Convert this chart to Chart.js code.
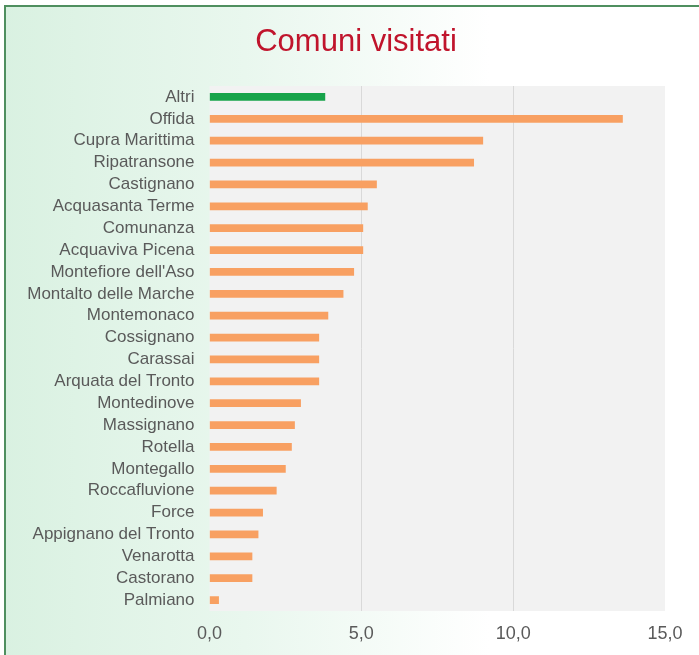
<!DOCTYPE html>
<html>
<head>
<meta charset="utf-8">
<script src="https://cdn.jsdelivr.net/npm/chart.js@4"></script>
<style>
    html, body { margin: 0; padding: 0; background: #ffffff; }
    #wrap { width: 699px; height: 655px; }
</style>
</head>
<body>
<div id="wrap"><canvas id="comuniChart" width="699" height="655"></canvas></div>
<script>
const titolo = 'Comuni visitati';
const comuni = [
    'Altri', 'Offida', 'Cupra Marittima', 'Ripatransone', 'Castignano',
    'Acquasanta Terme', 'Comunanza', 'Acquaviva Picena', "Montefiore dell'Aso",
    'Montalto delle Marche', 'Montemonaco', 'Cossignano', 'Carassai',
    'Arquata del Tronto', 'Montedinove', 'Massignano', 'Rotella', 'Montegallo',
    'Roccafluvione', 'Force', 'Appignano del Tronto', 'Venarotta', 'Castorano',
    'Palmiano'
];
const visite = [
    3.8, 13.6, 9.0, 8.7, 5.5,
    5.2, 5.05, 5.05, 4.75,
    4.4, 3.9, 3.6, 3.6,
    3.6, 3.0, 2.8, 2.7, 2.5,
    2.2, 1.75, 1.6, 1.4, 1.4,
    0.3
];
const xTicks = [0, 5, 10, 15];

const GREEN = '#17a34a';
const ORANGE = '#f8a062';
const LABEL_GREY = '#5a5a5a';

// sfondo sfumato verde, bordo e area del grafico
const backgroundPlugin = {
    id: 'background',
    beforeDraw(chart) {
        const { ctx, width, height, chartArea } = chart;
        ctx.save();
        const g = ctx.createLinearGradient(0, 0, width, 0);
        g.addColorStop(0, '#d9f1e1');
        g.addColorStop(0.35, '#e9f7ee');
        g.addColorStop(0.7, '#ffffff');
        ctx.fillStyle = g;
        ctx.fillRect(5, 6, width - 5, height - 6);

        ctx.strokeStyle = '#4f8f5f';
        ctx.lineWidth = 2;
        ctx.beginPath();
        ctx.moveTo(5, height);
        ctx.lineTo(5, 6);
        ctx.lineTo(width, 6);
        ctx.stroke();

        ctx.fillStyle = '#f2f2f2';
        ctx.fillRect(chartArea.left, chartArea.top,
            chartArea.right - chartArea.left, chartArea.bottom - chartArea.top);
        ctx.restore();
    },
    // titolo un po' spostato a destra come nell'originale
    afterDraw(chart) {
        const ctx = chart.ctx;
        ctx.save();
        ctx.font = '31px "Liberation Sans"';
        ctx.fillStyle = '#c0142c';
        ctx.textAlign = 'center';
        ctx.textBaseline = 'middle';
        ctx.fillText(titolo, 356, 42);
        ctx.restore();
    }
};

new Chart(document.getElementById('comuniChart'), {
    type: 'bar',
    data: {
        labels: comuni,
        datasets: [{
            data: visite,
            backgroundColor: comuni.map((c, i) => i === 0 ? GREEN : ORANGE),
            barThickness: 7,
            borderWidth: 0
        }]
    },
    options: {
        indexAxis: 'y',
        responsive: false,
        animation: false,
        devicePixelRatio: 1,
        layout: {
            padding: { top: 86, right: 34, bottom: 10, left: 0 }
        },
        plugins: {
            legend: { display: false },
            tooltip: { enabled: false },
            title: { display: false }
        },
        scales: {
            x: {
                min: 0,
                max: 15,
                afterBuildTicks: axis => {
                    axis.ticks = xTicks.map(v => ({ value: v }));
                },
                afterFit: axis => { axis.height = 34; },
                grid: {
                    drawTicks: false,
                    color: ctx => (ctx.tick && (ctx.tick.value === 0 || ctx.tick.value === 15))
                        ? 'rgba(0,0,0,0)' : '#d9d9d9'
                },
                border: { display: false },
                ticks: {
                    color: LABEL_GREY,
                    padding: 12,
                    font: { family: 'Liberation Sans', size: 18 },
                    callback: v => v.toFixed(1).replace('.', ',')
                }
            },
            y: {
                grid: { display: false, drawTicks: false },
                border: { display: false },
                afterFit: axis => { axis.width = 209.5; },
                ticks: {
                    color: LABEL_GREY,
                    padding: 15,
                    autoSkip: false,
                    font: { family: 'Liberation Sans', size: 17 }
                }
            }
        }
    },
    plugins: [backgroundPlugin]
});
</script>
</body>
</html>
